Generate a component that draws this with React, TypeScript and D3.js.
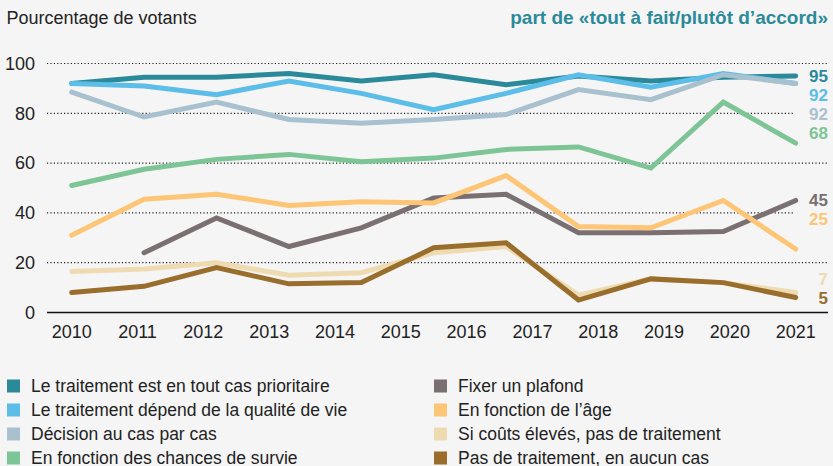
import React from 'react';
import * as d3 from 'd3';

// survey dates (fractional years)
const dates = [2010, 2011.1, 2012.2, 2013.3, 2014.4, 2015.5, 2016.6, 2017.7, 2018.8, 2019.9, 2021];
const years = [2010, 2011, 2012, 2013, 2014, 2015, 2016, 2017, 2018, 2019, 2020, 2021];
const yTicks = [0, 20, 40, 60, 80, 100];

const names = [
  'Le traitement est en tout cas prioritaire',
  'Le traitement dépend de la qualité de vie',
  'Décision au cas par cas',
  'En fonction des chances de survie',
  'Fixer un plafond',
  "En fonction de l\u2019âge",
  'Si coûts élevés, pas de traitement',
  'Pas de traitement, en aucun cas',
];

const prioritaire = [92, 94.5, 94.5, 96, 93, 95.5, 91.5, 95, 93, 94.5, 95];
const qualiteVie = [92, 91, 87.5, 93, 88, 81.5, 88, 95.5, 90.5, 96, 92];
const casParCas = [88.5, 78.5, 84.5, 77.5, 76, 77.5, 79.5, 89.5, 85.5, 95.5, 92];
const survie = [51, 57.5, 61.5, 63.5, 60.5, 62, 65.5, 66.5, 58, 84.5, 68];
const plafond = [null, 24, 38, 26.5, 34, 46, 47.5, 32, 32, 32.5, 45];
const age = [31, 45.5, 47.5, 43, 44.5, 44, 55, 34.5, 34, 45, 25.5];
const coutsEleves = [16.5, 17.5, 20, 15, 16, 24, 26.5, 7, 13.5, 12, 8];
const aucunCas = [8, 10.5, 18, 11.5, 12, 26, 28, 5, 13.5, 12, 6];

const endLabels = ['95', '92', '92', '68', '45', '25', '7', '5'];

const colors = ['#2a8a9a', '#5bbde8', '#a9c1cf', '#7dc596', '#7b7071', '#fdc576', '#efdbb1', '#996d2b'];

const seriesValues = [prioritaire, qualiteVie, casParCas, survie, plafond, age, coutsEleves, aucunCas];

const W = 833;
const H = 466;
const font = '"Liberation Sans", Arial, Helvetica, sans-serif';

export default function App() {
  const x = d3.scaleLinear().domain([2010, 2021]).range([71.7, 795.7]);
  const y = d3.scaleLinear().domain([0, 100]).range([312.5, 63.5]);

  const line = d3.line<[number, number | null]>()
    .defined(d => d[1] != null)
    .x(d => x(d[0]))
    .y(d => y(d[1] as number));

  // end labels: stacked when close, then kept above the lowest line end
  const gap = 19;
  const attract = 50;
  const last = dates.length - 1;
  const ends = seriesValues.map((v, i) => ({ i, pos: y(v[last] as number) }))
    .sort((a, b) => a.pos - b.pos || a.i - b.i);
  for (let k = 1; k < ends.length; k++) {
    if (ends[k].pos < ends[k - 1].pos + attract) ends[k].pos = ends[k - 1].pos + gap;
  }
  const limit = y(d3.min(seriesValues, v => v[last] as number) as number);
  if (ends[ends.length - 1].pos > limit) ends[ends.length - 1].pos = limit;
  for (let k = ends.length - 2; k >= 0; k--) {
    if (ends[k].pos > ends[k + 1].pos - gap) ends[k].pos = ends[k + 1].pos - gap;
  }

  return (
    <div style={{ position: 'absolute', left: 0, top: 0 }}>
      <svg width={W} height={H} style={{ display: 'block', fontFamily: font }}>
        <rect width={W} height={H} fill="#f5f5f5" />

        <text x={6.5} y={24} fontSize={18} fill="#222">Pourcentage de votants</text>
        <text x={828} y={24} fontSize={19} fontWeight="bold" fill="#2a8a9a" textAnchor="end">
          part de «tout à fait/plutôt d’accord»
        </text>

        {yTicks.map(t => {
          const hitsLabel = ends.some(e => Math.abs(e.pos - y(t)) < 10);
          return (
            <g key={t}>
              {t > 0 ? (
                <line x1={47} x2={hitsLabel ? 793 : 827} y1={y(t)} y2={y(t)} stroke="#222"
                  strokeWidth={1.2} strokeDasharray="1.2,2.2" />
              ) : (
                <line x1={47} x2={828} y1={y(t)} y2={y(t)} stroke="#111" strokeWidth={1.5} />
              )}
              <text x={35} y={y(t)} dy="0.35em" fontSize={18} fill="#222" textAnchor="end">{t}</text>
            </g>
          );
        })}

        {years.map(yr => (
          <text key={yr} x={x(yr)} y={337.5} fontSize={18} fill="#222" textAnchor="middle">{yr}</text>
        ))}

        {seriesValues.map((v, i) => (
          <path key={i}
            d={line(dates.map((d, j) => [d, v[j]] as [number, number | null])) || ''}
            fill="none" stroke={colors[i]} strokeWidth={5}
            strokeLinejoin="miter" strokeLinecap="round" />
        ))}

        {ends.map(e => (
          <text key={e.i} x={828} y={e.pos} dy="0.35em" fontSize={17} fontWeight="bold"
            fill={colors[e.i]} textAnchor="end">{endLabels[e.i]}</text>
        ))}

        {names.map((n, i) => {
          const col = Math.floor(i / 4);
          const row = i % 4;
          const lx = col === 0 ? 7 : 434;
          const by = 391.5 + row * 24;
          return (
            <g key={n}>
              <rect x={lx} y={by - 12} width={13} height={13} fill={colors[i]} />
              <text x={lx + 24} y={by} fontSize={17.5} fill="#222">{n}</text>
            </g>
          );
        })}
      </svg>
    </div>
  );
}
